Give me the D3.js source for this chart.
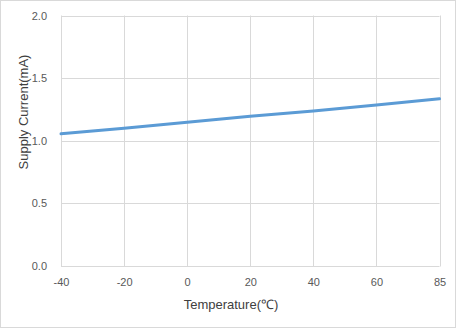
<!DOCTYPE html>
<html><head><meta charset="utf-8">
<script src="https://cdn.jsdelivr.net/npm/d3@7/dist/d3.min.js"></script>
<style>body{margin:0;background:#fff}svg{display:block}</style>
</head><body>
<script>
const temps = ["-40","-20","0","20","40","60","85"];
const current = [1.055, 1.10, 1.148, 1.195, 1.238, 1.286, 1.335];
const yTicks = [0, 0.5, 1.0, 1.5, 2.0];

const W = 456, H = 328;
const m = {left: 61, right: 16.5, top: 15.5, bottom: 62};
const svg = d3.select("body").append("svg").attr("width", W).attr("height", H);
svg.append("rect").attr("x",0.5).attr("y",0.5).attr("width",W-1).attr("height",H-1)
  .attr("fill","#fff").attr("stroke","#d9d9d9");

const x = d3.scalePoint().domain(temps).range([m.left, W - m.right]);
const y = d3.scaleLinear().domain([0, 2]).range([H - m.bottom, m.top]);

const g = svg.append("g");
g.selectAll(".hg").data(yTicks).enter().append("line")
  .attr("x1", m.left).attr("x2", W - m.right)
  .attr("y1", d => Math.round(y(d)) + 0.5).attr("y2", d => Math.round(y(d)) + 0.5)
  .attr("stroke", "#d9d9d9");
g.selectAll(".vg").data(temps).enter().append("line")
  .attr("x1", d => Math.round(x(d)) + 0.5).attr("x2", d => Math.round(x(d)) + 0.5)
  .attr("y1", m.top).attr("y2", H - m.bottom + 0.5)
  .attr("stroke", "#d9d9d9");

const yAx = d3.axisLeft(y).tickValues(yTicks).tickFormat(d3.format(".1f")).tickSize(0).tickPadding(14);
svg.append("g").attr("transform", `translate(${m.left},0)`).call(yAx)
  .call(s => s.select(".domain").remove())
  .selectAll("text").attr("fill", "#595959").style("font-family", "Liberation Sans, Arial, sans-serif").style("font-size", "11px");

const xAx = d3.axisBottom(x).tickSize(0).tickPadding(12);
svg.append("g").attr("transform", `translate(0,${H - m.bottom})`).call(xAx)
  .call(s => s.select(".domain").remove())
  .selectAll("text").attr("fill", "#595959").style("font-family", "Liberation Sans, Arial, sans-serif").style("font-size", "11px");

const line = d3.line().x((d, i) => x(temps[i])).y(d => y(d));
svg.append("path").datum(current).attr("d", line)
  .attr("fill", "none").attr("stroke", "#5b9bd5").attr("stroke-width", 3).attr("stroke-linecap", "round");

svg.append("text").attr("x", 231).attr("y", 309).attr("text-anchor", "middle")
  .attr("fill", "#404040").style("font-family", "Liberation Sans, Arial, sans-serif").style("font-size", "13px")
  .text("Temperature(℃)");
svg.append("text").attr("transform", `translate(28,112) rotate(-90)`)
  .attr("text-anchor", "middle")
  .attr("fill", "#404040").style("font-family", "Liberation Sans, Arial, sans-serif").style("font-size", "13px")
  .text("Supply Current(mA)");
</script>
</body></html>
